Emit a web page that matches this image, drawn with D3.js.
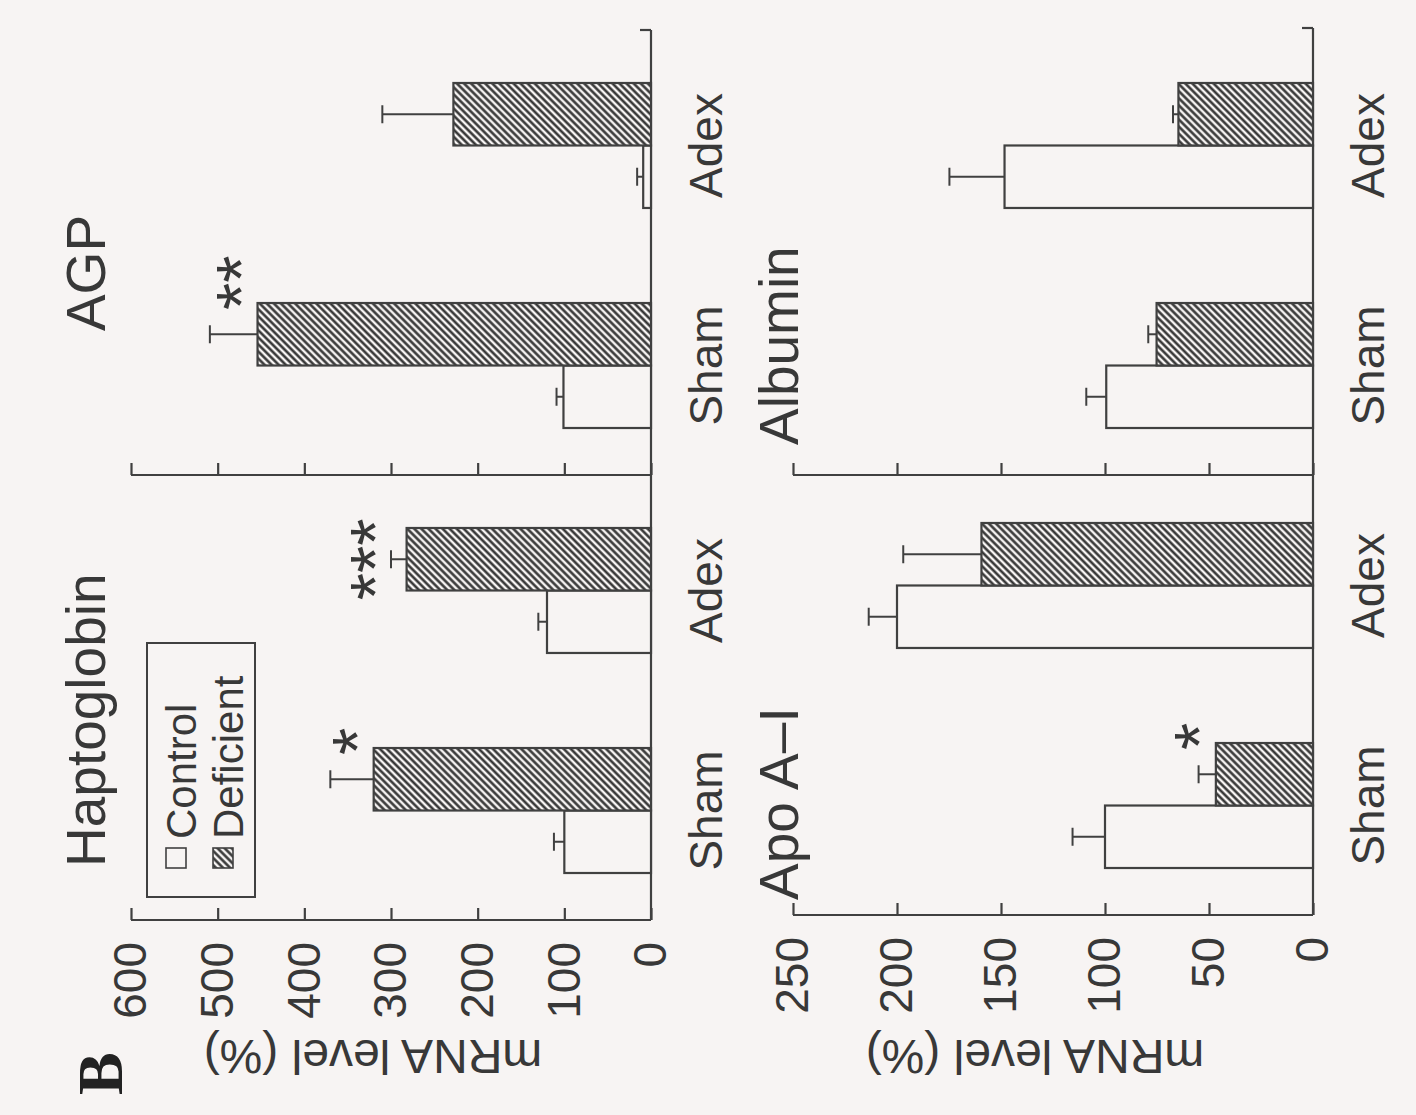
<!DOCTYPE html>
<html><head><meta charset="utf-8">
<script src="https://cdn.jsdelivr.net/npm/d3@7"></script>
<style>html,body{margin:0;padding:0;background:#f7f4f3;} svg{display:block}</style>
</head><body>
<svg id="c" width="1416" height="1115"></svg>
<script>
// ---- data ----
const groups = ["Sham", "Adex"];
const seriesNames = ["Control", "Deficient"];
const leftTicks = [0, 100, 200, 300, 400, 500, 600];
const rightTicks = [0, 50, 100, 150, 200, 250];
const titles = ["Haptoglobin", "AGP", "Apo A\u2013I", "Albumin"];
const yLabel = "mRNA level (%)";

const haptoControl = [100, 120];
const haptoControlErr = [12, 10];
const haptoDeficient = [320, 282];
const haptoDeficientErr = [50, 18];
const haptoStars = ["*", "***"];

const agpControl = [101, 9];
const agpControlErr = [8, 7];
const agpDeficient = [454, 228];
const agpDeficientErr = [55, 82];
const agpStars = ["**", ""];

const apoControl = [100, 200];
const apoControlErr = [15.6, 13.6];
const apoDeficient = [46.7, 159.4];
const apoDeficientErr = [8.3, 37.6];
const apoStars = ["*", ""];

const albControl = [99.4, 148.3];
const albControlErr = [9.6, 26.5];
const albDeficient = [75.2, 64.7];
const albDeficientErr = [4, 2.6];
const albStars = ["", ""];

// ---- style ----
const bg = "#f7f4f3", ink = "#383838", lineC = "#404040";
const FONT = "'Liberation Sans', Arial, Helvetica, sans-serif";

const svg = d3.select("#c");
const defs = svg.append("defs");
const pat = defs.append("pattern").attr("id", "hatch")
  .attr("patternUnits", "userSpaceOnUse").attr("width", 5).attr("height", 5)
  .attr("patternTransform", "rotate(45)");
pat.append("rect").attr("width", 5).attr("height", 5).attr("fill", bg);
pat.append("line").attr("x1", 2.5).attr("x2", 2.5).attr("y1", -1).attr("y2", 6)
  .attr("stroke", "#2c2c2c").attr("stroke-width", 2.4);

svg.append("rect").attr("width", 1416).attr("height", 1115).attr("fill", bg);
// figure is drawn upright, then rotated 90° counter-clockwise like the reference
const root = svg.append("g").attr("transform", "translate(0,1115) rotate(-90)");

const rows = [
  { base: 651, top: 131, max: 600, ticks: leftTicks, starts: [195, 640], end: 1085, titleY: 105 },
  { base: 1313, top: 793, max: 250, ticks: rightTicks, starts: [200, 640], end: 1087, titleY: 798 }
];

const panels = [
  { row: 0, col: 0, title: titles[0], tx: 248, ta: "start", c: haptoControl, ce: haptoControlErr, d: haptoDeficient, de: haptoDeficientErr, s: haptoStars },
  { row: 0, col: 1, title: titles[1], tx: 842, ta: "middle", c: agpControl, ce: agpControlErr, d: agpDeficient, de: agpDeficientErr, s: agpStars },
  { row: 1, col: 0, title: titles[2], tx: 215, ta: "start", c: apoControl, ce: apoControlErr, d: apoDeficient, de: apoDeficientErr, s: apoStars },
  { row: 1, col: 1, title: titles[3], tx: 670, ta: "start", c: albControl, ce: albControlErr, d: albDeficient, de: albDeficientErr, s: albStars }
];

rows.forEach((r, ri) => {
  const y = d3.scaleLinear().domain([0, r.max]).range([r.base, r.top]);
  r.y = y;
  const g = root.append("g");
  // baseline (category axis)
  g.append("line").attr("x1", r.starts[0]).attr("x2", r.end)
    .attr("y1", r.base).attr("y2", r.base)
    .attr("stroke", lineC).attr("stroke-width", 2.2);
  g.append("line").attr("x1", r.end).attr("x2", r.end)
    .attr("y1", r.base).attr("y2", r.base - 11)
    .attr("stroke", lineC).attr("stroke-width", 2.2);
  // value axes
  r.starts.forEach((a, ci) => {
    const ax = d3.axisLeft(y).tickValues(r.ticks).tickSize(-12).tickPadding(22)
      .tickFormat(ci === 0 ? d3.format("d") : () => "");
    const ag = g.append("g").attr("transform", `translate(${a},0)`).call(ax);
    ag.select(".domain").attr("stroke", lineC).attr("stroke-width", 2.2)
      .attr("d", `M0,${r.base}V${r.top}`);
    ag.selectAll(".tick line").attr("stroke", lineC).attr("stroke-width", 2.2);
    ag.selectAll(".tick text").attr("fill", ink).style("font-family", FONT).style("font-size", "46px");
  });
  // y label
  const mid = (r.base + r.top) / 2 - 18;
  g.append("text").attr("transform", `translate(75,${mid}) rotate(-90)`)
    .attr("text-anchor", "middle").attr("fill", ink)
    .style("font-family", FONT).style("font-size", "48px").text(yLabel);
});

panels.forEach(p => {
  const r = rows[p.row];
  const a = r.starts[p.col];
  const y = r.y;
  const x0 = d3.scaleBand().domain(groups).range([a + 47, a + 392]).paddingInner(0.432).paddingOuter(0);
  const x1 = d3.scaleBand().domain(seriesNames).range([0, x0.bandwidth()]);
  const g = root.append("g");

  const data = [];
  groups.forEach((grp, i) => {
    data.push({ grp, ser: "Control", v: p.c[i], e: p.ce[i] });
    data.push({ grp, ser: "Deficient", v: p.d[i], e: p.de[i] });
  });

  // error bars (one-sided, drawn first so bar outline covers their foot)
  data.forEach(d => {
    const cx = x0(d.grp) + x1(d.ser) + x1.bandwidth() / 2;
    const yt = y(d.v + d.e);
    g.append("line").attr("x1", cx).attr("x2", cx).attr("y1", y(d.v)).attr("y2", yt)
      .attr("stroke", lineC).attr("stroke-width", 2);
    g.append("line").attr("x1", cx - 9).attr("x2", cx + 9).attr("y1", yt).attr("y2", yt)
      .attr("stroke", lineC).attr("stroke-width", 2);
  });

  g.selectAll("rect.bar").data(data).join("rect").attr("class", "bar")
    .attr("x", d => x0(d.grp) + x1(d.ser))
    .attr("width", x1.bandwidth())
    .attr("y", d => y(d.v))
    .attr("height", d => r.base - y(d.v))
    .attr("fill", d => d.ser === "Control" ? bg : "url(#hatch)")
    .attr("stroke", lineC).attr("stroke-width", 2.2);

  // category labels
  groups.forEach(grp => {
    g.append("text").attr("x", x0(grp) + x0.bandwidth() / 2).attr("y", r.base + 71)
      .attr("text-anchor", "middle").attr("fill", ink)
      .style("font-family", FONT).style("font-size", "46px").text(grp);
  });

  // significance stars
  groups.forEach((grp, i) => {
    const st = p.s[i];
    if (!st) return;
    const xd = x0(grp) + x1("Deficient");
    const bw = x1.bandwidth();
    let x, yc, anchor;
    if (i === 0) { x = xd + bw - 7; yc = y(p.d[i]) - 32; anchor = "start"; }
    else { x = xd + bw / 2; yc = y(p.d[i] + p.de[i]) - 31; anchor = "middle"; }
    g.append("text").attr("x", x).attr("y", yc + 40).attr("text-anchor", anchor)
      .attr("fill", ink).style("font-family", FONT).style("font-size", "70px").text(st);
  });

  // title
  g.append("text").attr("x", p.tx).attr("y", r.titleY).attr("text-anchor", p.ta)
    .attr("fill", ink).style("font-family", FONT).style("font-size", "55px").text(p.title);
});

// legend
const lg = root.append("g");
lg.append("rect").attr("x", 218).attr("y", 147).attr("width", 254).attr("height", 108)
  .attr("fill", "none").attr("stroke", lineC).attr("stroke-width", 2);
seriesNames.forEach((s, i) => {
  lg.append("rect").attr("x", 247).attr("y", 166 + i * 47).attr("width", 20).attr("height", 20)
    .attr("fill", i === 0 ? bg : "url(#hatch)").attr("stroke", lineC).attr("stroke-width", 1.6);
  lg.append("text").attr("x", 276).attr("y", 196 + i * 47).attr("fill", ink)
    .style("font-family", FONT).style("font-size", "42px").text(s);
});

// panel letter
root.append("text").attr("x", 20).attr("y", 122).attr("fill", "#222")
  .style("font-family", "'Liberation Serif', 'Times New Roman', serif")
  .style("font-weight", "bold").style("font-size", "64px").text("B");
</script>
</body></html>
